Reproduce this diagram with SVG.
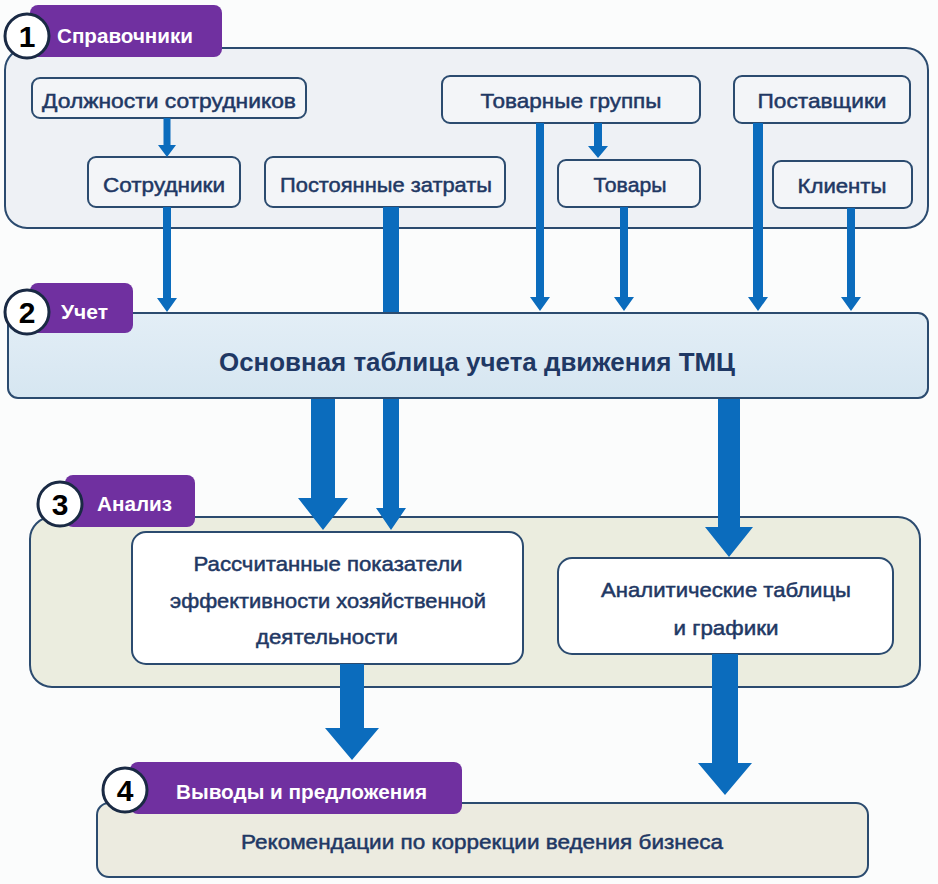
<svg xmlns="http://www.w3.org/2000/svg" width="938" height="884" viewBox="0 0 938 884">
<style>
.bg{fill:#fbfcfc}
.sec1{fill:#eef1f5;stroke:#2b4b6f;stroke-width:2}
.sec3{fill:#ebeddf;stroke:#2b4b6f;stroke-width:2}
.sec4{fill:#ecebe0;stroke:#2b4b6f;stroke-width:2}
.tbl{fill:url(#tg);stroke:#2b4b6f;stroke-width:2}
.box{fill:#f3f5f8;stroke:#2b4b6f;stroke-width:2}
.wbox{fill:#ffffff;stroke:#2b4b6f;stroke-width:2}
.tab{fill:#7030a0}
.num{fill:#ffffff;stroke:#1a2a44;stroke-width:3}
.numt{font-family:"Liberation Sans",Arial,sans-serif;font-weight:bold;font-size:30px;fill:#000;text-anchor:middle}
.tabt{font-family:"Liberation Sans",Arial,sans-serif;font-weight:bold;font-size:21px;fill:#ffffff}
.t{font-family:"Liberation Sans",Arial,sans-serif;font-size:21px;fill:#1f3864;stroke:#1f3864;stroke-width:0.5;text-anchor:middle}
.big{font-family:"Liberation Sans",Arial,sans-serif;font-weight:bold;font-size:26px;fill:#1f3864;text-anchor:middle}
.arr{fill:#0b6cbd}
</style>
<defs>
<linearGradient id="tg" x1="0" y1="0" x2="0" y2="1">
<stop offset="0" stop-color="#e3eef6"/>
<stop offset="1" stop-color="#d6e6f1"/>
</linearGradient>
</defs>
<rect class="bg" x="0" y="0" width="938" height="884"/>

<g id="section1">
<rect class="sec1" x="5" y="48" width="923" height="180" rx="22"/>
<rect class="tab" x="30" y="5" width="192" height="52" rx="8"/>
<circle class="num" cx="27" cy="36" r="22"/>
<text class="numt" x="27" y="47">1</text>
<text class="tabt" x="57" y="43" textLength="136" lengthAdjust="spacingAndGlyphs">Справочники</text>
</g>

<g id="n-dolzhnosti">
<rect class="box" x="32" y="78" width="274" height="40" rx="8"/>
<text class="t" x="169" y="108" textLength="254" lengthAdjust="spacingAndGlyphs">Должности сотрудников</text>
</g>
<g id="n-sotrudniki">
<rect class="box" x="88" y="157" width="152" height="50" rx="8"/>
<text class="t" x="164" y="192" textLength="122" lengthAdjust="spacingAndGlyphs">Сотрудники</text>
</g>
<g id="n-zatraty">
<rect class="box" x="265" y="157" width="240" height="50" rx="8"/>
<text class="t" x="386" y="192" textLength="212" lengthAdjust="spacingAndGlyphs">Постоянные затраты</text>
</g>
<g id="n-gruppy">
<rect class="box" x="442" y="76" width="258" height="47" rx="8"/>
<text class="t" x="571" y="108" textLength="181" lengthAdjust="spacingAndGlyphs">Товарные группы</text>
</g>
<g id="n-tovary">
<rect class="box" x="558" y="160" width="142" height="47" rx="8"/>
<text class="t" x="630" y="192" textLength="73" lengthAdjust="spacingAndGlyphs">Товары</text>
</g>
<g id="n-postavshchiki">
<rect class="box" x="734" y="76" width="176" height="47" rx="8"/>
<text class="t" x="822" y="108" textLength="129" lengthAdjust="spacingAndGlyphs">Поставщики</text>
</g>
<g id="n-klienty">
<rect class="box" x="773" y="161" width="139" height="47" rx="8"/>
<text class="t" x="842" y="193" textLength="89" lengthAdjust="spacingAndGlyphs">Клиенты</text>
</g>

<g id="section3">
<rect class="sec3" x="30" y="517" width="890" height="170" rx="22"/>
<rect class="tab" x="65" y="475" width="130" height="52" rx="8"/>
<circle class="num" cx="60" cy="504" r="22"/>
<text class="numt" x="60" y="515">3</text>
<text class="tabt" x="97" y="511" textLength="75" lengthAdjust="spacingAndGlyphs">Анализ</text>
</g>
<g id="n-pokazateli">
<rect class="wbox" x="132" y="532" width="391" height="132" rx="14"/>
<text class="t" x="328" y="571" textLength="269" lengthAdjust="spacingAndGlyphs">Рассчитанные показатели</text>
<text class="t" x="328" y="608" textLength="316" lengthAdjust="spacingAndGlyphs">эффективности хозяйственной</text>
<text class="t" x="327" y="644" textLength="142" lengthAdjust="spacingAndGlyphs">деятельности</text>
</g>
<g id="n-analitika">
<rect class="wbox" x="558" y="558" width="335" height="96" rx="14"/>
<text class="t" x="726" y="597" textLength="250" lengthAdjust="spacingAndGlyphs">Аналитические таблицы</text>
<text class="t" x="726" y="635" textLength="105" lengthAdjust="spacingAndGlyphs">и графики</text>
</g>

<g id="section4">
<rect class="sec4" x="97" y="803" width="771" height="74" rx="12"/>
<rect class="tab" x="130" y="762" width="332" height="52" rx="8"/>
<circle class="num" cx="125" cy="790" r="22"/>
<text class="numt" x="125" y="801">4</text>
<text class="tabt" x="176" y="799" textLength="251" lengthAdjust="spacingAndGlyphs">Выводы и предложения</text>
<text class="t" x="482" y="849" textLength="482" lengthAdjust="spacingAndGlyphs">Рекомендации по коррекции ведения бизнеса</text>
</g>

<g id="connectors">
<path class="arr" d="M163.5 118 V145 H158 L167 157 L176 145 H170.5 V118 Z"/>
<path class="arr" d="M594 123 V146 H588 L598 158 L608 146 H602 V123 Z"/>
<path class="arr" d="M163 207 V298 H157 L167 312 L177 298 H171 V207 Z"/>
<path class="arr" d="M383 207 V508 H376 L391 530 L406 508 H399 V207 Z"/>
<path class="arr" d="M536 123 V297 H530 L540 311 L550 297 H544 V123 Z"/>
<path class="arr" d="M620 207 V297 H614 L624 311 L634 297 H628 V207 Z"/>
<path class="arr" d="M753 123 V297 H748 L758 311 L768 297 H763 V123 Z"/>
<path class="arr" d="M847 208 V297 H841 L851 311 L861 297 H855 V208 Z"/>
<path class="arr" d="M311 398 V498 H298 L323 530 L348 498 H335 V398 Z"/>
<path class="arr" d="M718 398 V527 H705 L729 557 L753 527 H740 V398 Z"/>
<path class="arr" d="M340 664 V728 H325 L352 760 L379 728 H364 V664 Z"/>
<path class="arr" d="M712 654 V763 H698 L725 795 L752 763 H738 V654 Z"/>
</g>

<g id="section2">
<rect class="tbl" x="8" y="313" width="920" height="85" rx="10"/>
<rect class="tab" x="30" y="283" width="103" height="50" rx="8"/>
<circle class="num" cx="27" cy="312" r="22"/>
<text class="numt" x="27" y="323">2</text>
<text class="tabt" x="61" y="319" textLength="47" lengthAdjust="spacingAndGlyphs">Учет</text>
<text class="big" x="477" y="371" textLength="516" lengthAdjust="spacingAndGlyphs">Основная таблица учета движения ТМЦ</text>
</g>
</svg>
